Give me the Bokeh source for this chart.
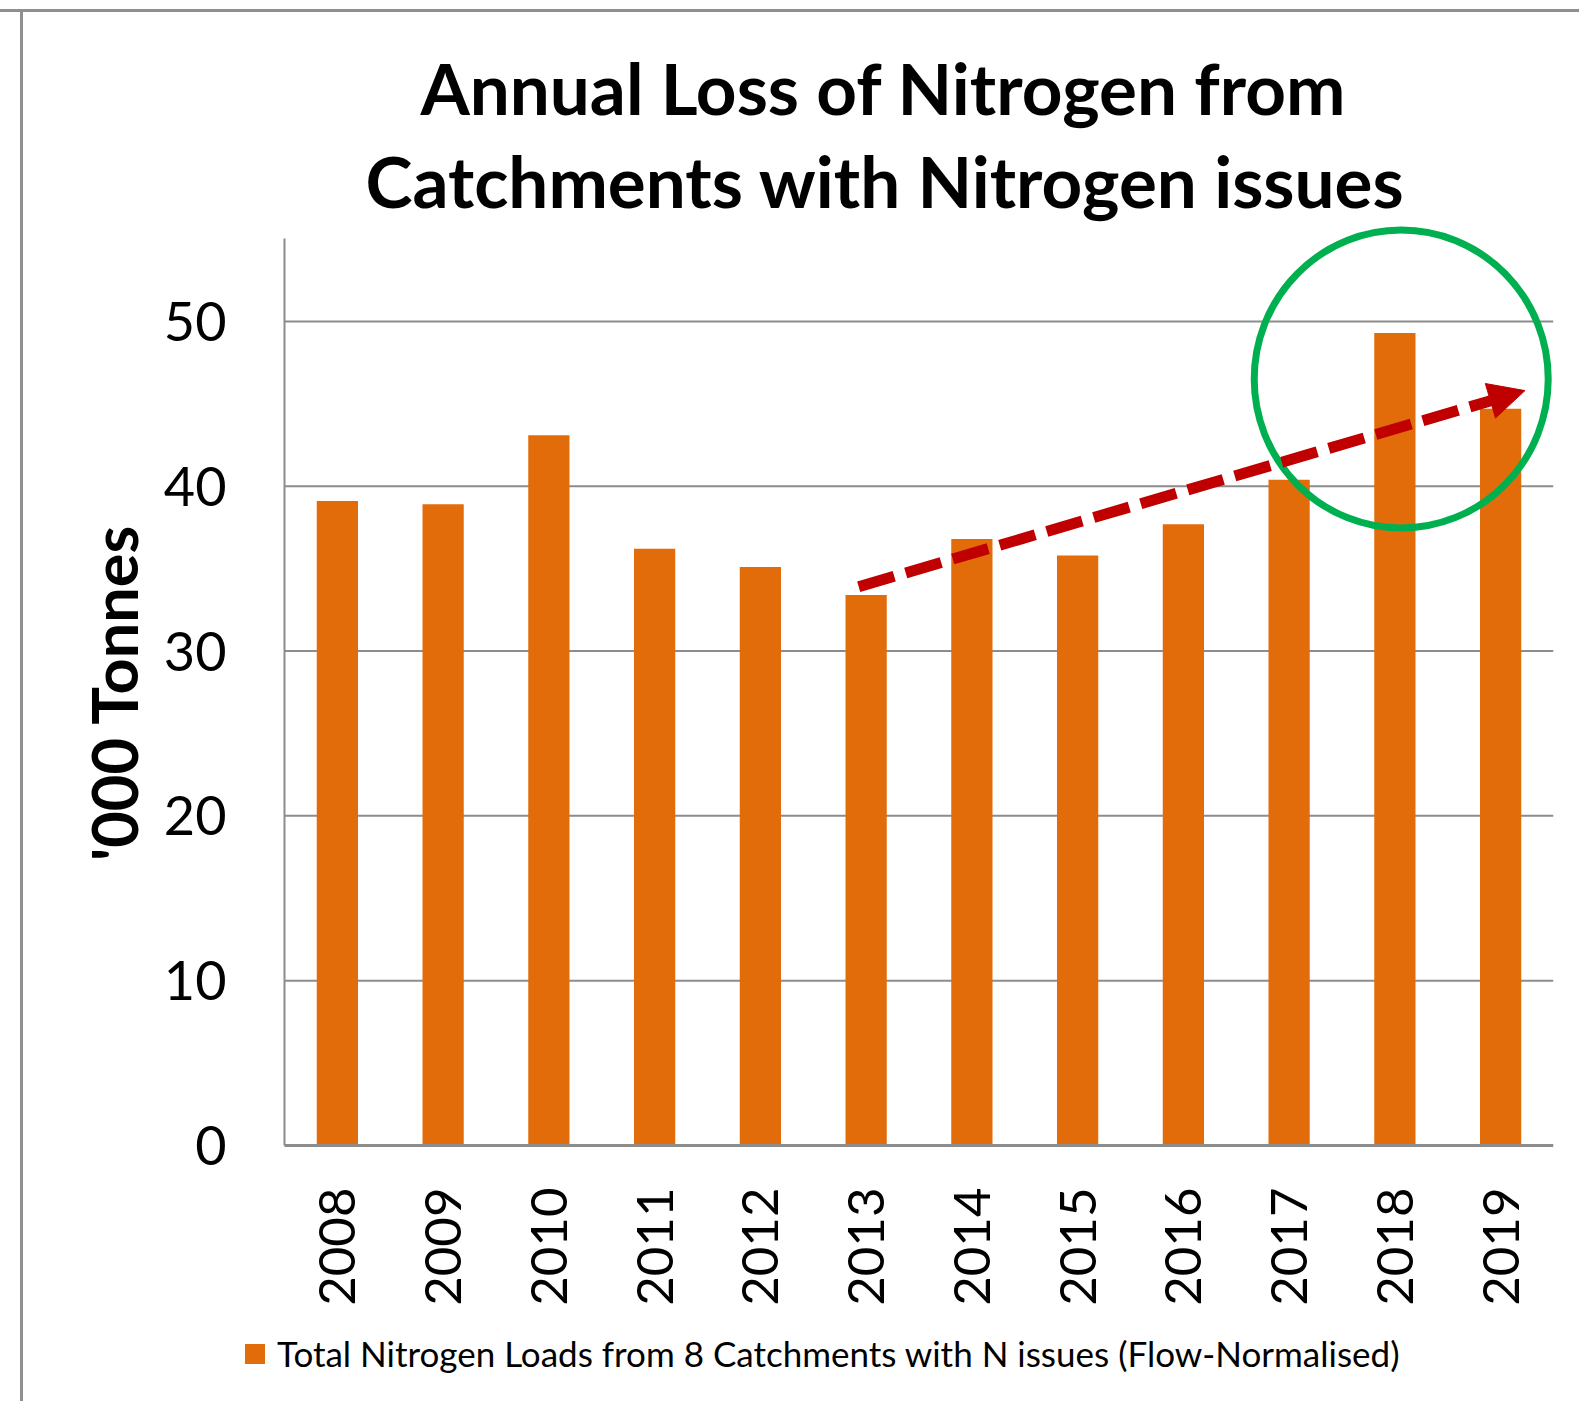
import math
from bokeh.plotting import figure
from bokeh.models import (Range1d, FixedTicker, Legend, LegendItem, Arrow,
                          NormalHead, Title, Label)
from bokeh.embed import file_html
from bokeh.resources import INLINE

# ---- data ----
years = ["2008", "2009", "2010", "2011", "2012", "2013",
         "2014", "2015", "2016", "2017", "2018", "2019"]
nitrogen_kt = [39.1, 38.9, 43.1, 36.2, 35.1, 33.4,
               36.8, 35.8, 37.7, 40.4, 49.3, 44.7]
y_ticks = [0, 10, 20, 30, 40, 50]
title_lines = ["Annual Loss of Nitrogen from", "Catchments with Nitrogen issues"]
y_label = "'000 Tonnes"
series_name = "Total Nitrogen Loads from 8 Catchments with N issues (Flow-Normalised)"
# trend arrow (x as bar index, y in '000 tonnes)
trend_start = (4.93, 33.9)
trend_end = (11.23, 45.8)
# highlight circle around 2018-2019
highlight_center = (10.06, 46.5)

ORANGE = "#E36C0A"
GREY = "#8C8C8C"
RED = "#C00000"
GREEN = "#00B050"

idx = list(range(len(years)))
x_lo, x_hi = -0.5, len(years) - 0.5

# the frame fills the canvas below the title; both axes sit at fixed data positions
p = figure(width=1579, height=1401,
           x_range=Range1d(-3.1856, x_hi), y_range=Range1d(-15.53, 56),
           output_backend="svg", toolbar_location=None,
           min_border_left=0, min_border_right=26,
           min_border_top=222, min_border_bottom=0,
           styles={"background-image": "linear-gradient(#8f8f8f,#8f8f8f), linear-gradient(#8f8f8f,#8f8f8f)",
                   "background-size": "100% 3px, 3px 100%",
                   "background-position": "0px 9px, 20px 10px",
                   "background-repeat": "no-repeat"})
p.outline_line_color = None
p.background_fill_color = None
p.border_fill_color = None

# horizontal grid lines between the axis and the right edge
grid_vals = [t for t in y_ticks if t > 0]
p.segment(x0=[x_lo] * len(grid_vals), x1=[x_hi] * len(grid_vals),
          y0=grid_vals, y1=grid_vals, line_color=GREY, line_width=2)

bars = p.vbar(x=idx, top=nitrogen_kt, width=0.39, fill_color=ORANGE, line_color=None)

# title: first line outermost, second line next to the frame
p.title.text = title_lines[0]
p.title.align = "left"
p.title.offset = 420
p.title.vertical_align = "bottom"
p.title.standoff = 11
p.title.text_font = "Lato"
p.title.text_font_style = "bold"
p.title.text_font_size = "71px"
p.title.text_color = "black"
p.add_layout(Title(text=title_lines[1], align="left", offset=365, vertical_align="bottom",
                   standoff=0, text_font="Lato", text_font_style="bold",
                   text_font_size="71px", text_color="black"), "above")

# axes
p.yaxis.fixed_location = x_lo
p.yaxis.ticker = FixedTicker(ticks=y_ticks)
p.yaxis.bounds = (0, 55)
p.yaxis.axis_line_color = GREY
p.yaxis.axis_line_width = 2
p.yaxis.major_tick_line_color = None
p.yaxis.minor_tick_line_color = None
p.yaxis.major_label_standoff = 52
p.yaxis.major_label_text_font = "Lato"
p.yaxis.major_label_text_font_size = "54px"
p.yaxis.major_label_text_color = "black"

p.xaxis.fixed_location = 0
p.xaxis.bounds = (x_lo, x_hi)
p.xaxis.ticker = FixedTicker(ticks=idx)
p.xaxis.major_label_overrides = {i: y for i, y in zip(idx, years)}
p.xaxis.major_label_orientation = math.pi / 2
p.xaxis.axis_line_color = GREY
p.xaxis.axis_line_width = 3
p.xaxis.major_tick_line_color = None
p.xaxis.minor_tick_line_color = None
p.xaxis.major_label_standoff = 36
p.xaxis.major_label_text_font = "Lato"
p.xaxis.major_label_text_font_size = "51px"
p.xaxis.major_label_text_color = "black"

p.xgrid.grid_line_color = None
p.ygrid.grid_line_color = None

# y axis title
p.add_layout(Label(x=113, y=709, x_units="screen", y_units="screen", text=y_label,
                   angle=math.pi / 2, text_align="center", text_baseline="middle",
                   text_font="Lato", text_font_style="bold",
                   text_font_size="63px", text_color="black"))

# highlight circle
p.ellipse(x=[highlight_center[0]], y=[highlight_center[1]], width=[294], height=[298],
          width_units="screen", height_units="screen",
          fill_color=None, line_color=GREEN, line_width=7)

# trend arrow
p.add_layout(Arrow(end=NormalHead(size=36, fill_color=RED, line_color=RED, line_width=1),
                   x_start=trend_start[0], y_start=trend_start[1],
                   x_end=trend_end[0], y_end=trend_end[1],
                   line_color=RED, line_width=11, line_dash="37 12"))

# legend under the year labels
legend = Legend(items=[LegendItem(label=series_name, renderers=[bars])],
                location=(242, 27), orientation="horizontal",
                label_text_font="Lato", label_text_font_size="35px",
                label_text_color="black",
                glyph_width=25, glyph_height=25, label_standoff=10,
                padding=0, margin=0, spacing=0,
                border_line_color=None, background_fill_alpha=0)
p.add_layout(legend)

open("out.html", "w").write(file_html(p, INLINE))
